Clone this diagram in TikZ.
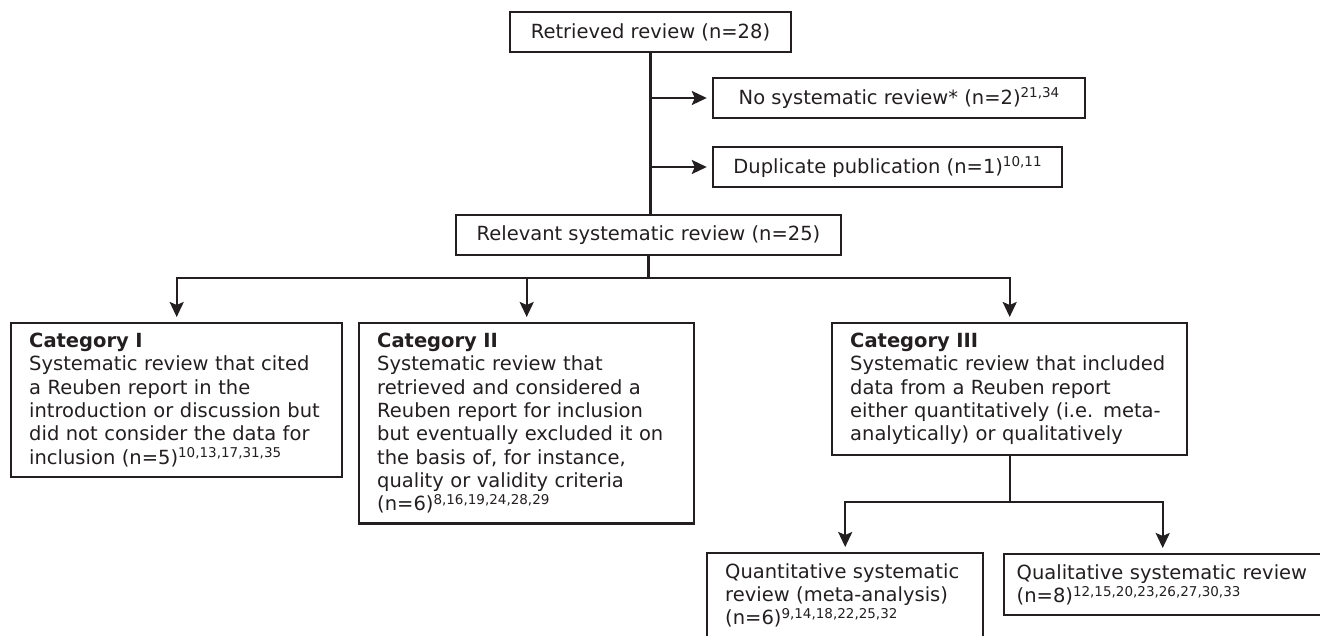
\documentclass[tikz,border=0pt]{standalone}
\usepackage{fontspec}
\setmainfont{DejaVu Sans}
\usetikzlibrary{arrows.meta}
\definecolor{ink}{HTML}{231F20}
\newcommand{\boxfont}{\fontsize{19.5}{23.3}\selectfont}
\newcommand{\refsup}[1]{\raisebox{6.3pt}{\fontsize{13.5}{13.5}\selectfont #1}}

\begin{document}
\begin{tikzpicture}[x=1pt,y=-1pt,
  box/.style={draw=ink,line width=2.4pt,text=ink,font=\boxfont,inner xsep=18pt,inner ysep=10pt},
  linebox/.style={box,minimum height=40pt},
  catbox/.style={box,anchor=north west,align=left},
  link/.style={draw=ink,line width=2.4pt},
  arr/.style={link,-{Stealth[length=15pt,width=14pt,inset=3pt]},shorten >=5pt}]
\useasboundingbox (0,0) rectangle (1320,635);

\node[linebox,minimum width=281pt] (retrieved) at (650.5,32) {Retrieved review (n=28)};
\node[linebox,minimum width=372pt] (nosys) at (899,98) {No systematic review* (n=2)\refsup{21,34}};
\node[linebox,minimum width=349pt] (dup) at (887.5,167) {Duplicate publication (n=1)\refsup{10,11}};
\node[linebox,minimum width=385pt] (relevant) at (648.5,235) {Relevant systematic review (n=25)};

\node[catbox,text width=295pt] (cat1) at (10,322) {\textbf{Category I}\\Systematic review that cited\\a Reuben report in the\\introduction or discussion but\\did not consider the data for\\inclusion (n=5)\refsup{10,13,17,31,35}};
\node[catbox,text width=299pt] (cat2) at (358,322) {\textbf{Category II}\\Systematic review that\\retrieved and considered a\\Reuben report for inclusion\\but eventually excluded it on\\the basis of, for instance,\\quality or validity criteria\\(n=6)\refsup{8,16,19,24,28,29}};
\node[catbox,text width=319pt] (cat3) at (831,322) {\textbf{Category III}\\Systematic review that included\\data from a Reuben report\\either quantitatively (i.e. meta-\\analytically) or qualitatively};

\node[catbox,text width=240pt] (quant) at (706,552) {Quantitative systematic\\review (meta-analysis)\\(n=6)\refsup{9,14,18,22,25,32}};
\node[catbox,text width=292pt,inner xsep=12.5pt] (qual) at (1003,553) {Qualitative systematic review\\(n=8)\refsup{12,15,20,23,26,27,30,33}};

\draw[link] (retrieved.south) -- (retrieved.south |- relevant.north);
\draw[arr] (retrieved.south |- nosys.west) -- (nosys.west);
\draw[arr] (retrieved.south |- dup.west) -- (dup.west);

\draw[link] (relevant.south) -- ++(0,22) coordinate (split1);
\draw[arr] (split1) -| (cat1.north);
\draw[arr] (split1) -| (cat2.north);
\draw[arr] (split1) -| (cat3.north);

\draw[link] (cat3.south) -- ++(0,46) coordinate (split2);
\draw[arr] (split2) -| (quant.north);
\draw[arr] (split2) -| (qual.north);
\end{tikzpicture}
\end{document}
